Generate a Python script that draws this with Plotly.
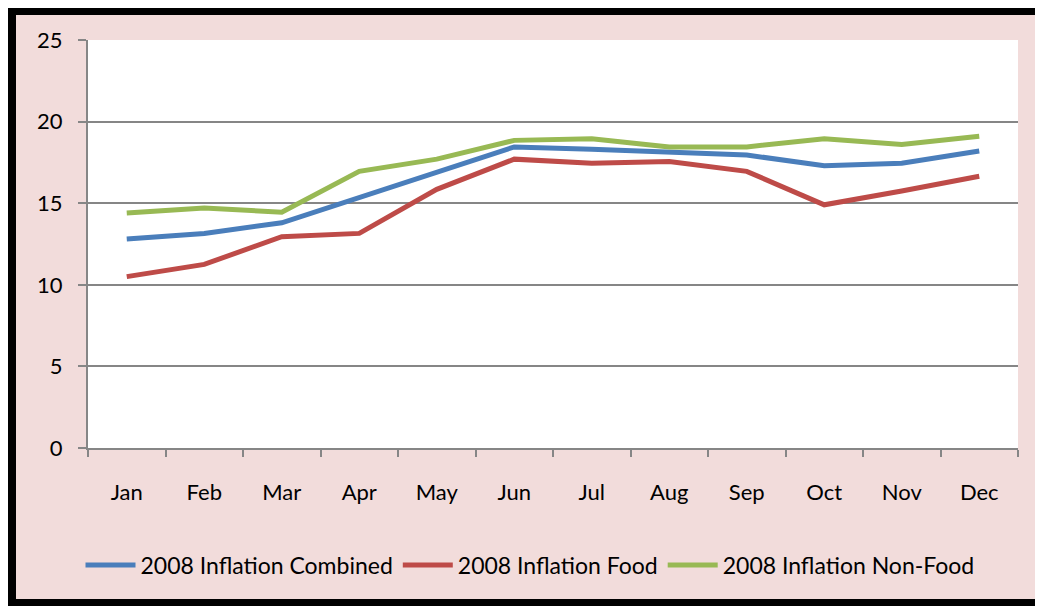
import plotly.graph_objects as go

months = ["Jan", "Feb", "Mar", "Apr", "May", "Jun", "Jul", "Aug", "Sep", "Oct", "Nov", "Dec"]
combined = [12.8, 13.15, 13.8, 15.35, 16.95, 18.45, 18.3, 18.15, 17.95, 17.3, 17.45, 18.2]
food = [10.5, 11.25, 12.95, 13.15, 15.85, 17.7, 17.45, 17.55, 16.95, 14.9, 15.75, 16.65]
nonfood = [14.4, 14.7, 14.45, 16.95, 17.7, 18.85, 18.95, 18.45, 18.45, 18.95, 18.6, 19.1]
y_ticks = [0, 5, 10, 15, 20, 25]

series = [
    ("2008 Inflation Combined", combined, "#4A7EBB"),
    ("2008 Inflation Food", food, "#BE4B48"),
    ("2008 Inflation Non-Food", nonfood, "#98B954"),
]

fig = go.Figure()
for name, vals, color in series:
    fig.add_trace(go.Scatter(x=months, y=vals, name=name, mode="lines",
                             line=dict(color=color, width=5)))

# page body has an 8px margin, so the figure is sized to fill the rest of the window
W, H = 1035, 598
L, R, T, B = 80, 25, 32, 158
pw, ph = W - L - R, H - T - B

def px_x(p):
    return (p - L) / pw

def px_y(p):
    return (H - B - p) / ph

fig.update_layout(
    width=W, height=H,
    margin=dict(l=L, r=R, t=T, b=B),
    paper_bgcolor="#F2DCDB",
    plot_bgcolor="#FFFFFF",
    font=dict(family="Lato, Carlito, sans-serif", size=22, color="#000000"),
    showlegend=True,
    legend=dict(orientation="h", x=px_x(522), xanchor="center", y=px_y(557), yanchor="middle",
                font=dict(size=23), bgcolor="rgba(0,0,0,0)", itemwidth=50),
    xaxis=dict(showgrid=False, showline=True, linecolor="#868686", linewidth=2,
               ticks="outside", tickson="boundaries", ticklen=7, tickcolor="#868686",
               tickwidth=2, ticklabelstandoff=24, range=[-0.5, 11.5]),
    yaxis=dict(range=[0, 25], tickvals=y_ticks, showgrid=True, gridcolor="#868686",
               gridwidth=2, showline=True, linecolor="#868686", linewidth=2,
               ticks="outside", ticklen=8, tickcolor="#868686", tickwidth=2,
               ticklabelstandoff=11, zeroline=False),
    shapes=[dict(type="rect", xref="paper", yref="paper",
                 x0=px_x(3), x1=px_x(1036), y0=px_y(596), y1=px_y(2),
                 line=dict(color="#000000", width=10), fillcolor="rgba(0,0,0,0)",
                 layer="above")],
)

fig.write_html("out.html")
